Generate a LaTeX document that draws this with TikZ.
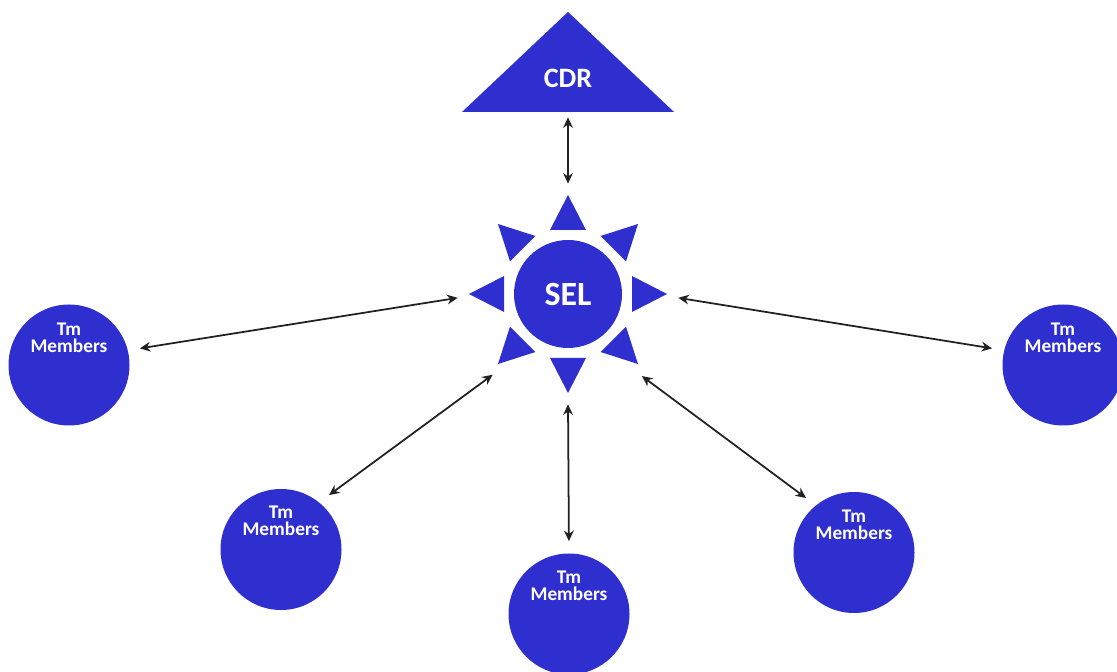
\documentclass[tikz,border=0pt]{standalone}
\usepackage{fontspec}
\setmainfont{Carlito}
\usetikzlibrary{shapes.geometric,arrows.meta}
\definecolor{selblue}{HTML}{2F2FD0}
\tikzstyle{member} = [circle, minimum size = 2.42cm, inner sep = 0pt, fill = selblue]
\tikzstyle{membertext} = [text = white, align = center, font = \bfseries\fontsize{11}{9.6}\selectfont]
\tikzstyle{hub} = [circle, minimum size = 2.16cm, inner sep = 0pt, fill = selblue, text = white, font = \bfseries\fontsize{19.3}{22}\selectfont]
\tikzstyle{top} = [isosceles triangle, isosceles triangle stretches, shape border rotate = 90, minimum width = 4.24cm, minimum height = 2cm, inner sep = 0pt, fill = selblue, text = white, font = \bfseries\fontsize{16}{18}\selectfont]
\tikzstyle{ray} = [fill = selblue]
\tikzstyle{arrow} = [line width = 1pt, <->, >={Stealth[length=6pt,width=5.5pt]}, draw = black!87]

\begin{document}
\begin{tikzpicture}
        	\clip (0,0) rectangle (22.34,13.42);

        	\node[hub](sel) at (11.36,7.54){SEL};
        	\node[circle, minimum size = 4.4cm](sun) at (sel){};
        	\foreach \a in {0,45,...,315}
        		\fill[ray, shift = {(sel.center)}, rotate = \a] (1.28,-0.36) -- (1.98,0) -- (1.28,0.36) -- cycle;

        	\node[top](cdr) at (11.36,11.86){CDR};

        	\node[member, label = {[membertext, yshift = 0.54cm]center:{Tm\\Members}}](m1) at (1.38,6.12){};
        	\node[member, label = {[membertext, yshift = 0.58cm]center:{Tm\\Members}}](m2) at (5.62,2.43){};
        	\node[member, label = {[membertext, yshift = 0.56cm]center:{Tm\\Members}}](m3) at (11.38,1.14){};
        	\node[member, label = {[membertext, yshift = 0.56cm]center:{Tm\\Members}}](m4) at (17.08,2.37){};
        	\node[member, label = {[membertext, yshift = 0.54cm]center:{Tm\\Members}}](m5) at (21.26,6.12){};

        	\draw [arrow, shorten <= 0.1cm](cdr) -- (sun);
        	\draw [arrow, shorten <= 0.24cm](m1.14) -- (sun.182);
        	\draw [arrow, shorten <= 0.24cm](m5.166) -- (sun.358);
        	\draw [arrow, shorten <= 0.24cm](m2.51) -- (sun.227);
        	\draw [arrow, shorten <= 0.24cm](m3.90) -- (sun.270);
        	\draw [arrow, shorten <= 0.24cm](m4.129) -- (sun.312);

\end{tikzpicture}
\end{document}
